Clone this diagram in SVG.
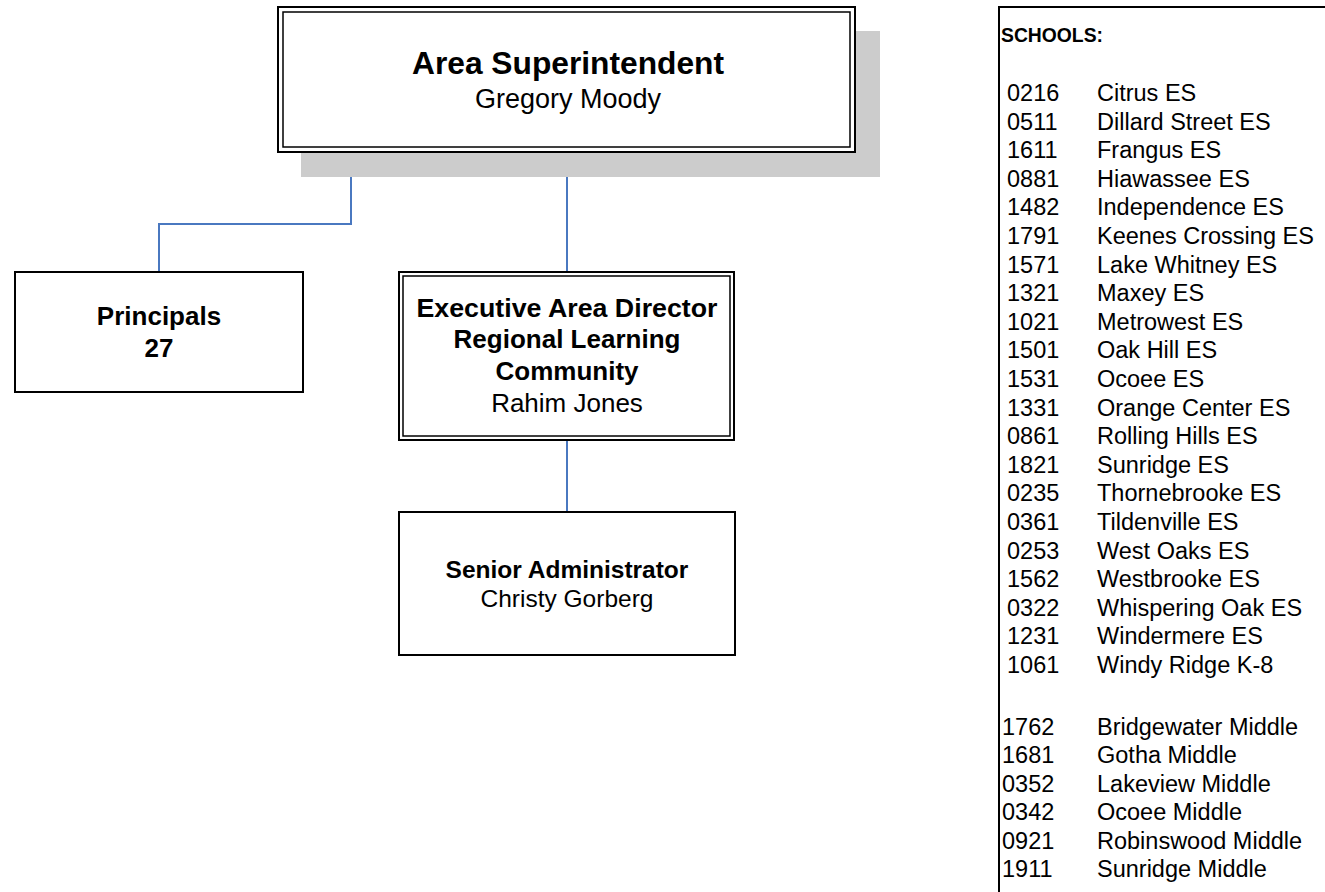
<svg xmlns="http://www.w3.org/2000/svg" width="1325" height="892" viewBox="0 0 1325 892">
<style>
.box{fill:#fff;stroke:#000;stroke-width:2}
.inner{fill:none;stroke:#000;stroke-width:1.5}
.conn{fill:none;stroke:#4a78c0;stroke-width:2}
.t{font-family:"Liberation Sans",Arial,sans-serif;fill:#000;text-anchor:middle}
.b{font-weight:bold}
.l{font-family:"Liberation Sans",Arial,sans-serif;fill:#000;font-size:23.5px}
</style>
<rect width="1325" height="892" fill="#fff"/>
<g id="connectors">
<polyline class="conn" points="351,152 351,224 159,224 159,272"/>
<line class="conn" x1="567" y1="152" x2="567" y2="272"/>
<line class="conn" x1="567" y1="440" x2="567" y2="512"/>
</g>
<g id="area-superintendent">
<rect x="301" y="31" width="579" height="146" fill="#cccccc"/>
<rect class="box" x="278" y="7" width="577" height="145"/>
<rect class="inner" x="283" y="12" width="567" height="135"/>
<text class="t b" x="568" y="74" font-size="31" textLength="312" lengthAdjust="spacingAndGlyphs">Area Superintendent</text>
<text class="t" x="568" y="108" font-size="27">Gregory Moody</text>
</g>
<g id="principals">
<rect class="box" x="15" y="272" width="288" height="120"/>
<text class="t b" x="159" y="325" font-size="26">Principals</text>
<text class="t b" x="159" y="357" font-size="26">27</text>
</g>
<g id="executive-area-director">
<rect class="box" x="399" y="272" width="335" height="168"/>
<rect class="inner" x="403" y="276" width="327" height="160"/>
<text class="t b" x="567" y="317" font-size="26" textLength="301" lengthAdjust="spacingAndGlyphs">Executive Area Director</text>
<text class="t b" x="567" y="348" font-size="26">Regional Learning</text>
<text class="t b" x="567" y="380" font-size="26">Community</text>
<text class="t" x="567" y="412" font-size="26">Rahim Jones</text>
</g>
<g id="senior-administrator">
<rect class="box" x="399" y="512" width="336" height="143"/>
<text class="t b" x="567" y="578" font-size="24.5">Senior Administrator</text>
<text class="t" x="567" y="607" font-size="24.5">Christy Gorberg</text>
</g>
<g id="schools">
<polyline points="999,892 999,7 1325,7" fill="none" stroke="#000" stroke-width="2"/>
<text x="1001" y="42" font-family="'Liberation Sans',Arial,sans-serif" font-weight="bold" font-size="21" textLength="102" lengthAdjust="spacingAndGlyphs">SCHOOLS:</text>
<g class="l">
<text x="1007" y="101">0216</text><text x="1097" y="101">Citrus ES</text>
<text x="1007" y="129.6">0511</text><text x="1097" y="129.6">Dillard Street ES</text>
<text x="1007" y="158.2">1611</text><text x="1097" y="158.2">Frangus ES</text>
<text x="1007" y="186.8">0881</text><text x="1097" y="186.8">Hiawassee ES</text>
<text x="1007" y="215.4">1482</text><text x="1097" y="215.4">Independence ES</text>
<text x="1007" y="244">1791</text><text x="1097" y="244">Keenes Crossing ES</text>
<text x="1007" y="272.6">1571</text><text x="1097" y="272.6">Lake Whitney ES</text>
<text x="1007" y="301.2">1321</text><text x="1097" y="301.2">Maxey ES</text>
<text x="1007" y="329.8">1021</text><text x="1097" y="329.8">Metrowest ES</text>
<text x="1007" y="358.4">1501</text><text x="1097" y="358.4">Oak Hill ES</text>
<text x="1007" y="387">1531</text><text x="1097" y="387">Ocoee ES</text>
<text x="1007" y="415.6">1331</text><text x="1097" y="415.6">Orange Center ES</text>
<text x="1007" y="444.2">0861</text><text x="1097" y="444.2">Rolling Hills ES</text>
<text x="1007" y="472.8">1821</text><text x="1097" y="472.8">Sunridge ES</text>
<text x="1007" y="501.4">0235</text><text x="1097" y="501.4">Thornebrooke ES</text>
<text x="1007" y="530">0361</text><text x="1097" y="530">Tildenville ES</text>
<text x="1007" y="558.6">0253</text><text x="1097" y="558.6">West Oaks ES</text>
<text x="1007" y="587.2">1562</text><text x="1097" y="587.2">Westbrooke ES</text>
<text x="1007" y="615.8">0322</text><text x="1097" y="615.8">Whispering Oak ES</text>
<text x="1007" y="644.4">1231</text><text x="1097" y="644.4">Windermere ES</text>
<text x="1007" y="673">1061</text><text x="1097" y="673">Windy Ridge K-8</text>
<text x="1002" y="735">1762</text><text x="1097" y="735">Bridgewater Middle</text>
<text x="1002" y="763.4">1681</text><text x="1097" y="763.4">Gotha Middle</text>
<text x="1002" y="791.8">0352</text><text x="1097" y="791.8">Lakeview Middle</text>
<text x="1002" y="820.2">0342</text><text x="1097" y="820.2">Ocoee Middle</text>
<text x="1002" y="848.6">0921</text><text x="1097" y="848.6">Robinswood Middle</text>
<text x="1002" y="877">1911</text><text x="1097" y="877">Sunridge Middle</text>
</g>
</g>
</svg>
